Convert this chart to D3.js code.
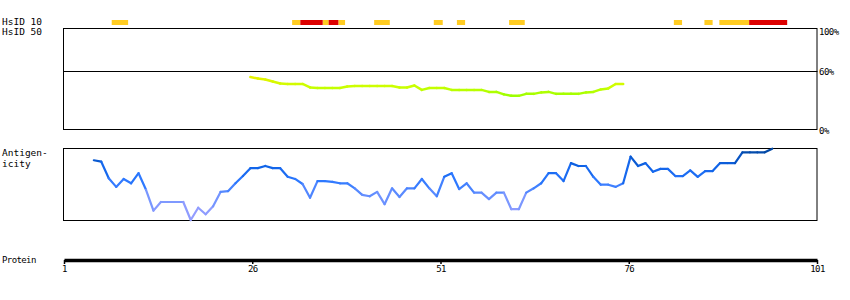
<!DOCTYPE html>
<html lang="en">
  <head>
    <meta charset="UTF-8" />
    <title>HsID / Antigenicity</title>
    <script src="https://d3js.org/d3.v7.min.js"></script>
    <style>
      body { margin: 0; background: #fff; }
      text { font-family: "DejaVu Sans Mono", monospace; fill: #000; }
    </style>
  </head>
  <body>
    <svg width="850" height="300"></svg>
    <script>
      // residue tick labels on the protein axis
      const tickLabels = [1, 26, 51, 76, 101];

      // identity hits (start, end in residues)
      const hitStart = [7.4, 31.6, 35.7, 37.8, 42.6, 50.6, 53.7, 60.7, 82.8, 86.9, 88.9, 32.7, 36.5, 92.9];
      const hitEnd = [9.6, 32.7, 36.5, 38.7, 44.7, 51.8, 54.8, 62.8, 83.9, 88.0, 92.9, 35.7, 37.8, 98.0];
      const hitLevel = ["y", "y", "y", "y", "y", "y", "y", "y", "y", "y", "y", "r", "r", "r"];

      // HsID % identity, residues 26..76
      const hsidStart = 26;
      const hsidValues = [53.5, 52, 51, 49, 47, 46.5, 46.5, 46.5, 43, 42.5, 42.5, 42.5, 42.5, 44, 44.5,
        44.5, 44.5, 44.5, 44.5, 44.5, 43, 43, 45, 40.5, 42.5, 42.5, 42.5, 40.5, 40.5, 40.5, 40.5, 40.5,
        38.5, 38.5, 36, 34.5, 34.5, 36.5, 36.5, 38, 38.5, 36.5, 36.5, 36.5, 36.5, 38, 38.5, 41, 42, 46.5, 46.5];

      // antigenicity, residues 5..96
      const antStart = 5;
      const antValues = [83, 81, 58, 46, 57, 51, 65, 42, 13, 25, 25, 25, 25, 0, 17, 8, 19, 39, 40, 51,
        61, 72, 72, 75, 72, 72, 60, 57, 50, 31, 54, 54, 53, 51, 51, 44, 35, 33, 39, 22, 44, 32, 44, 44,
        57, 44, 33, 60, 65, 43, 51, 38, 38, 29, 38, 38, 15, 15, 38, 44, 51, 65, 65, 54, 79, 75, 75, 60,
        49, 49, 46, 51, 88, 75, 79, 67, 71, 71, 61, 61, 69, 60, 68, 68, 79, 79, 79, 94, 94, 94, 94, 99];

      const svg = d3.select("svg");
      const LEFT = 64, RIGHT = 817;

      const X = d3.scaleLinear().domain([1, 101]).range([LEFT, RIGHT]);
      const R = d3.scaleLinear().domain([1, 102]).range([LEFT, RIGHT]);

      // top hit bars
      const hitColor = { y: "#ffcc22", r: "#dd0000" };
      svg.append("g").selectAll("rect")
        .data(hitStart.map((s, i) => ({ s, e: hitEnd[i], l: hitLevel[i] })))
        .join("rect")
        .attr("x", d => R(d.s))
        .attr("y", 20)
        .attr("width", d => R(d.e) - R(d.s))
        .attr("height", 5)
        .attr("fill", d => hitColor[d.l]);

      svg.append("text").attr("x", 2).attr("y", 25).attr("font-size", 9.5).text("HsID 10");
      svg.append("text").attr("x", 2).attr("y", 35).attr("font-size", 9.5).text("HsID 50");

      // HsID panel
      const Yh = d3.scaleLinear().domain([0, 100]).range([130, 31]);
      svg.append("rect").attr("x", 63.5).attr("y", 28.5).attr("width", RIGHT - 63.5)
        .attr("height", 101).attr("fill", "none").attr("stroke", "#000");
      svg.append("line").attr("x1", 63.5).attr("x2", RIGHT + 0.5)
        .attr("y1", Math.round(Yh(60)) + 0.5).attr("y2", Math.round(Yh(60)) + 0.5).attr("stroke", "#000");
      [["100%", 100], ["60%", 60], ["0%", 0]].forEach(([t, v]) => {
        svg.append("text").attr("x", 819).attr("y", Yh(v) + 4).attr("font-size", 9)
          .attr("letter-spacing", -0.5).text(t);
      });

      const hsidColor = d3.scaleLinear().domain([34, 44, 54]).range(["#99ff00", "#ccff00", "#e8f000"]).clamp(true);
      const hsidPts = hsidValues.map((v, i) => [R(hsidStart + i), Yh(v), v]);
      svg.append("g").selectAll("line")
        .data(d3.pairs(hsidPts))
        .join("line")
        .attr("x1", d => d[0][0]).attr("y1", d => d[0][1])
        .attr("x2", d => d[1][0]).attr("y2", d => d[1][1])
        .attr("stroke", d => hsidColor((d[0][2] + d[1][2]) / 2))
        .attr("stroke-width", 2.5)
        .attr("stroke-linecap", "round");

      // Antigenicity panel
      const Ya = d3.scaleLinear().domain([0, 100]).range([220, 148]);
      svg.append("rect").attr("x", 63.5).attr("y", 148.5).attr("width", RIGHT - 63.5)
        .attr("height", 72).attr("fill", "none").attr("stroke", "#000");
      svg.append("text").attr("x", 2).attr("y", 156).attr("font-size", 9.5).text("Antigen-");
      svg.append("text").attr("x", 2).attr("y", 167).attr("font-size", 9.5).text("icity");

      const antColor = d3.scaleLinear().domain([0, 25, 55, 75, 100])
        .range(["#9f9fff", "#7f99ff", "#2a77ff", "#0e62e6", "#00449a"]).clamp(true);
      const antPts = antValues.map((v, i) => [R(antStart + i), Ya(v), v]);
      svg.append("g").selectAll("line")
        .data(d3.pairs(antPts))
        .join("line")
        .attr("x1", d => d[0][0]).attr("y1", d => d[0][1])
        .attr("x2", d => d[1][0]).attr("y2", d => d[1][1])
        .attr("stroke", d => antColor((d[0][2] + d[1][2]) / 2))
        .attr("stroke-width", 2.2)
        .attr("stroke-linecap", "round");

      // Protein axis
      svg.append("text").attr("x", 2).attr("y", 263).attr("font-size", 9)
        .attr("letter-spacing", -0.6).text("Protein");
      const axis = svg.append("g")
        .attr("transform", "translate(0,260)")
        .call(d3.axisBottom(X).tickValues(tickLabels).tickSize(4).tickSizeOuter(0));
      axis.select(".domain").attr("stroke-width", 3.5);
      axis.selectAll(".tick line").attr("stroke-width", 1.5);
      axis.selectAll(".tick text")
        .attr("font-family", "DejaVu Sans Mono")
        .attr("font-size", 9)
        .attr("letter-spacing", -0.6)
        .attr("dy", "0.6em");
    </script>
  </body>
</html>
